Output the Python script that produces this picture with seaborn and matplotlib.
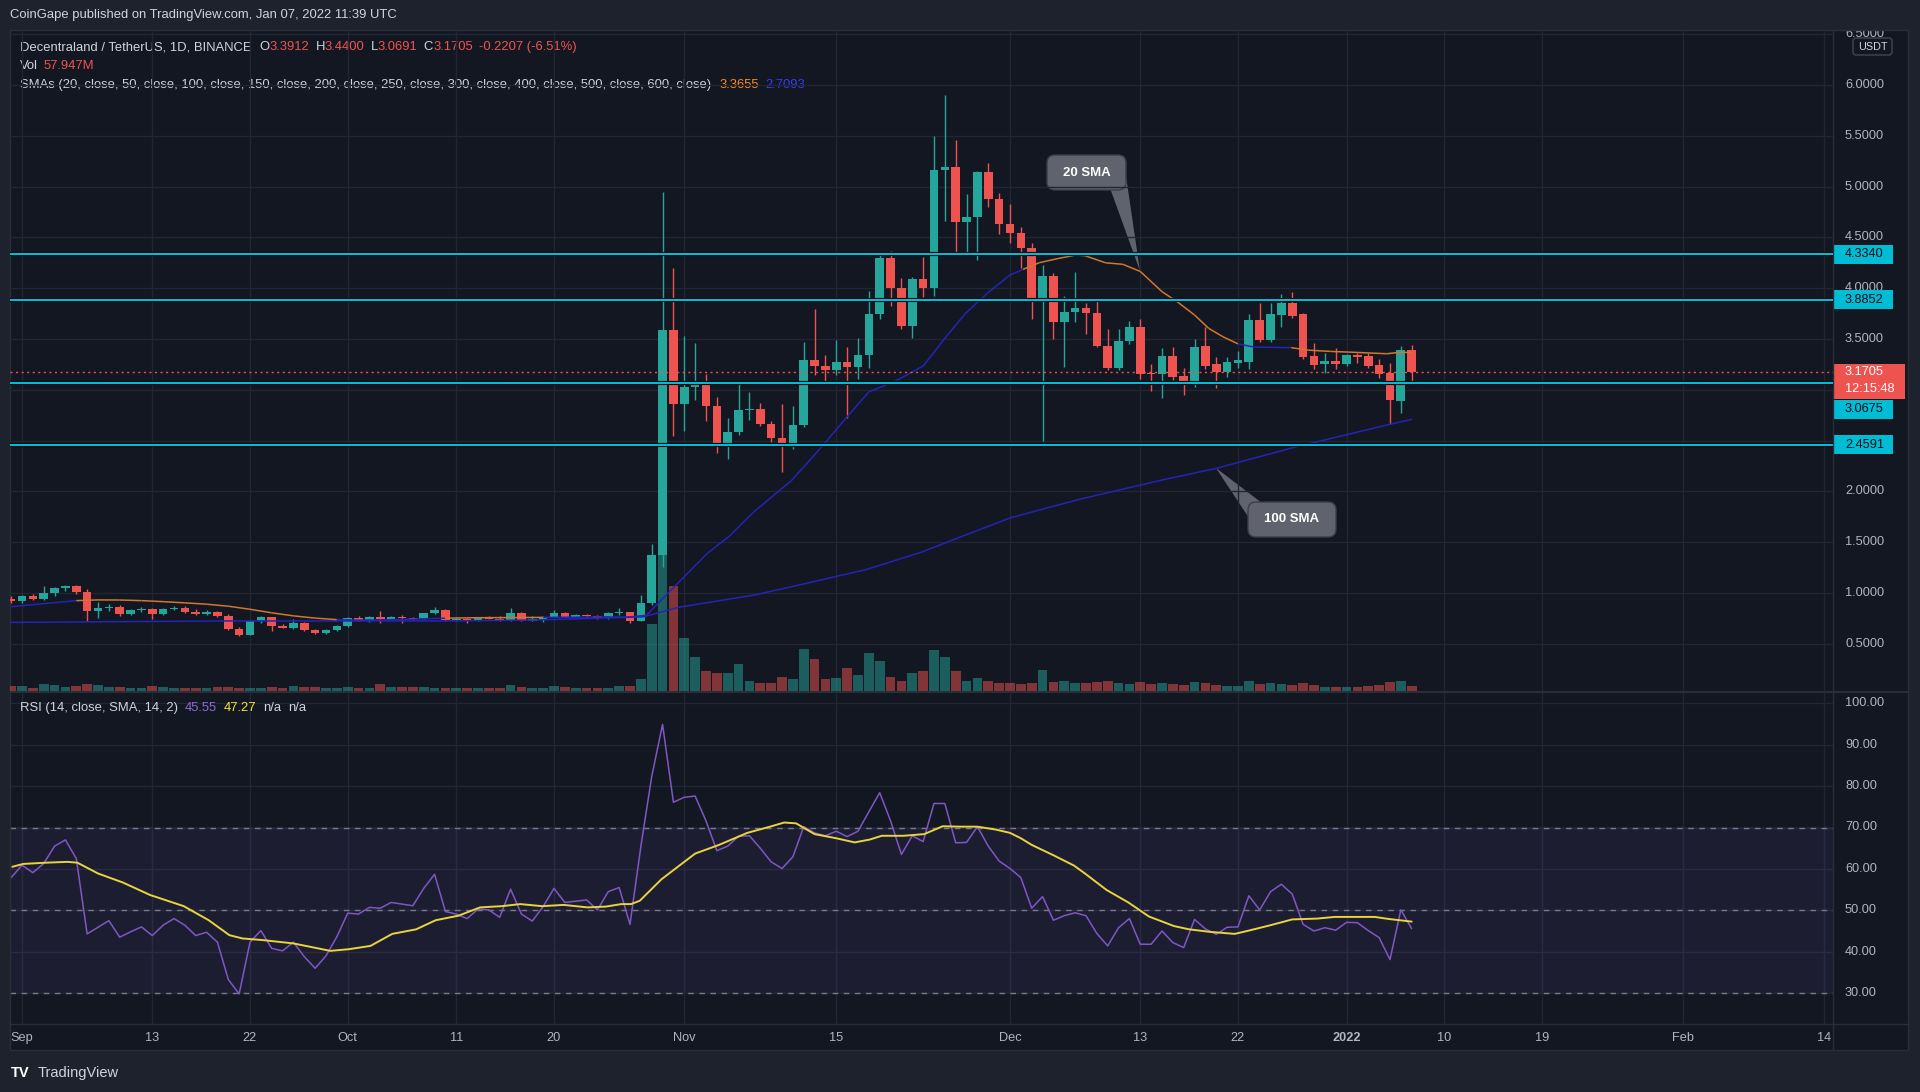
import numpy as np
import pandas as pd
import matplotlib
matplotlib.use("Agg")
import matplotlib.pyplot as plt
import matplotlib.transforms as mtransforms
from matplotlib.patches import Rectangle, FancyBboxPatch, Polygon
from matplotlib.collections import LineCollection
import seaborn as sns

# ---------------- data (MANA/USDT daily, day 0 = 2021-09-01) ----------------
first_day = -1
opens = [0.94, 0.92, 0.97, 0.94, 0.997, 1.05, 1.07, 1.01, 0.82, 0.85,
         0.866, 0.79, 0.833, 0.84, 0.79, 0.843, 0.856, 0.816, 0.79, 0.816,
         0.774, 0.65, 0.59, 0.725, 0.76, 0.675, 0.66, 0.70, 0.636, 0.603,
         0.636, 0.675, 0.75, 0.725, 0.76, 0.745, 0.767, 0.75, 0.745, 0.80,
         0.833, 0.735, 0.745, 0.725, 0.757, 0.748, 0.728, 0.80, 0.728, 0.735,
         0.767, 0.80, 0.767, 0.783, 0.775, 0.75, 0.80, 0.81, 0.728, 0.90,
         1.376, 3.584, 2.859, 3.026, 3.08, 2.84, 2.48, 2.58, 2.80, 2.81,
         2.664, 2.527, 2.46, 2.656, 3.295, 3.233, 3.194, 3.272, 3.22, 3.338,
         3.748, 4.294, 4.0, 3.628, 4.087, 4.0, 5.163, 5.19, 4.655, 4.697,
         5.147, 4.874, 4.632, 4.54, 4.392, 3.89, 4.12, 3.67, 3.762, 3.81,
         3.752, 3.434, 3.211, 3.484, 3.621, 3.165, 3.155, 3.333, 3.136, 3.047,
         3.431, 3.254, 3.179, 3.267, 3.277, 3.687, 3.49, 3.736, 3.858, 3.743,
         3.333, 3.251, 3.283, 3.254, 3.342, 3.333, 3.244, 3.162, 2.893, 3.3912]
highs = [0.975, 0.98, 0.99, 1.07, 1.06, 1.08, 1.08, 1.04, 0.91, 0.89,
         0.885, 0.84, 0.86, 0.85, 0.85, 0.87, 0.875, 0.84, 0.83, 0.825,
         0.79, 0.67, 0.73, 0.775, 0.765, 0.69, 0.74, 0.71, 0.65, 0.645,
         0.685, 0.76, 0.775, 0.77, 0.82, 0.775, 0.785, 0.765, 0.805, 0.86,
         0.84, 0.765, 0.75, 0.765, 0.775, 0.77, 0.855, 0.81, 0.77, 0.775,
         0.83, 0.81, 0.795, 0.79, 0.785, 0.81, 0.855, 0.815, 0.98, 1.48,
         4.945, 4.196, 3.53, 3.456, 3.16, 2.93, 2.72, 3.065, 2.98, 2.87,
         2.695, 2.858, 2.843, 3.467, 3.80, 3.34, 3.495, 3.424, 3.514, 3.973,
         4.33, 4.364, 4.099, 4.11, 4.31, 5.495, 5.90, 5.457, 4.93, 5.157,
         5.235, 4.94, 4.825, 4.60, 4.44, 4.228, 4.153, 3.923, 4.156, 3.851,
         3.89, 3.595, 3.595, 3.677, 3.693, 3.251, 3.408, 3.418, 3.211, 3.497,
         3.615, 3.32, 3.32, 3.382, 3.746, 3.858, 3.851, 3.94, 3.966, 3.76,
         3.457, 3.359, 3.408, 3.352, 3.365, 3.359, 3.303, 3.26, 3.434, 3.44]
lows = [0.905, 0.90, 0.93, 0.93, 0.97, 1.02, 0.99, 0.72, 0.75, 0.82,
        0.77, 0.78, 0.81, 0.74, 0.78, 0.83, 0.80, 0.78, 0.785, 0.765,
        0.64, 0.58, 0.585, 0.70, 0.63, 0.655, 0.65, 0.63, 0.60, 0.595,
        0.625, 0.665, 0.72, 0.715, 0.70, 0.735, 0.705, 0.735, 0.74, 0.79,
        0.725, 0.725, 0.70, 0.72, 0.74, 0.72, 0.72, 0.72, 0.72, 0.715,
        0.76, 0.76, 0.76, 0.765, 0.74, 0.745, 0.785, 0.70, 0.72, 0.88,
        1.26, 2.55, 2.59, 2.90, 2.69, 2.38, 2.32, 2.56, 2.70, 2.645,
        2.488, 2.187, 2.414, 2.629, 3.143, 3.085, 3.143, 2.72, 3.104, 3.21,
        3.70, 3.826, 3.60, 3.514, 3.91, 3.923, 4.664, 4.333, 4.343, 4.274,
        4.80, 4.53, 4.441, 4.195, 3.693, 2.499, 3.497, 3.221, 3.664, 3.549,
        3.42, 3.19, 3.19, 3.447, 3.103, 2.99, 2.923, 3.10, 2.949, 3.03,
        3.20, 3.014, 3.13, 3.211, 3.201, 3.47, 3.47, 3.615, 3.71, 3.30,
        3.201, 3.162, 3.20, 3.23, 3.267, 3.211, 3.119, 2.66, 2.775, 3.0691]
closes = [0.92, 0.97, 0.94, 0.997, 1.05, 1.07, 1.01, 0.82, 0.85, 0.866,
          0.79, 0.833, 0.84, 0.79, 0.843, 0.856, 0.816, 0.79, 0.816, 0.774,
          0.65, 0.59, 0.725, 0.76, 0.675, 0.66, 0.70, 0.636, 0.603, 0.636,
          0.675, 0.75, 0.725, 0.76, 0.745, 0.767, 0.75, 0.745, 0.80, 0.833,
          0.735, 0.745, 0.725, 0.757, 0.748, 0.728, 0.80, 0.728, 0.735, 0.767,
          0.80, 0.767, 0.783, 0.775, 0.75, 0.80, 0.81, 0.728, 0.90, 1.376,
          3.584, 2.859, 3.026, 3.08, 2.84, 2.48, 2.58, 2.80, 2.81, 2.664,
          2.527, 2.46, 2.656, 3.295, 3.233, 3.194, 3.272, 3.22, 3.338, 3.748,
          4.294, 4.0, 3.628, 4.087, 4.0, 5.163, 5.19, 4.655, 4.697, 5.147,
          4.874, 4.632, 4.54, 4.392, 3.89, 4.12, 3.67, 3.762, 3.81, 3.752,
          3.434, 3.211, 3.484, 3.621, 3.156, 3.155, 3.333, 3.129, 3.047, 3.425,
          3.234, 3.179, 3.27, 3.293, 3.687, 3.49, 3.743, 3.858, 3.73, 3.326,
          3.244, 3.283, 3.254, 3.342, 3.326, 3.238, 3.156, 2.90, 3.3912, 3.1705]
volumes_m = [55, 55, 35, 78, 66, 46, 55, 85, 66, 46,
             46, 35, 35, 55, 46, 35, 35, 35, 35, 46,
             46, 35, 35, 35, 46, 35, 58, 46, 46, 35,
             35, 46, 35, 35, 78, 46, 46, 46, 46, 35,
             35, 35, 35, 35, 35, 35, 66, 46, 35, 35,
             55, 46, 35, 35, 35, 35, 55, 55, 136, 774,
             1856, 1215, 611, 391, 230, 206, 206, 313, 119, 96,
             96, 166, 138, 487, 371, 138, 151, 267, 183, 441,
             348, 161, 119, 206, 234, 473, 391, 230, 119, 151,
             119, 96, 92, 82, 92, 244, 106, 115, 96, 93,
             104, 116, 93, 81, 104, 81, 93, 81, 70, 104,
             93, 70, 58, 58, 116, 81, 93, 81, 70, 93,
             70, 46, 46, 46, 46, 58, 70, 104, 116, 58]
rsi_vals = [57.9, 60.9, 59.1, 61.3, 65.5, 67.0, 62.5, 44.3, 45.9, 47.5,
            43.5, 44.8, 46.0, 43.9, 46.4, 48.0, 46.4, 43.9, 44.7, 42.3,
            33.3, 29.8, 42.3, 45.1, 40.8, 40.2, 42.3, 38.8, 36.0, 39.0,
            43.6, 49.3, 49.1, 50.7, 50.5, 51.9, 51.5, 51.1, 55.3, 58.7,
            49.7, 49.1, 48.0, 50.3, 50.1, 48.3, 55.1, 49.1, 47.4, 50.9,
            55.3, 51.9, 52.2, 52.5, 50.1, 54.5, 55.5, 46.6, 65.4, 82.3,
            94.9, 76.1, 77.3, 77.6, 71.6, 64.4, 65.5, 67.9, 68.0, 65.0,
            61.7, 60.1, 62.9, 70.2, 68.7, 68.0, 69.1, 67.8, 69.1, 73.8,
            78.4, 71.6, 63.5, 68.0, 66.6, 75.8, 75.8, 66.3, 66.4, 70.2,
            65.5, 61.9, 60.1, 57.9, 50.5, 53.3, 47.6, 48.7, 49.4, 48.7,
            44.4, 41.4, 45.8, 48.0, 41.8, 41.8, 45.0, 42.2, 41.0, 47.8,
            45.5, 44.2, 45.9, 46.0, 53.5, 50.1, 54.5, 56.3, 53.9, 46.6,
            45.0, 45.8, 45.2, 47.1, 47.0, 45.1, 43.4, 38.1, 50.1, 45.55]
rsi_ma_days = [-0.9, 0.1, 2.2, 4.2, 5.1, 7.0, 9.3, 11.8, 14.9, 17.2,
               19.1, 20.3, 22.2, 25.0, 28.4, 30.1, 32.1, 34.1, 36.3, 38.1,
               40.2, 42.2, 44.2, 45.9, 47.9, 49.9, 52.1, 53.8, 55.2, 56.1,
               56.9, 58.9, 62.0, 64.2, 66.8, 68.9, 70.2, 71.3, 73.0, 75.0,
               76.7, 78.1, 79.2, 81.2, 83.1, 84.8, 86.4, 88.0, 89.7, 91.0,
               92.0, 93.0, 95.0, 96.9, 97.9, 99.9, 101.9, 103.8, 106.1, 107.5,
               109.4, 111.7, 113.0, 115.0, 117.0, 119.3, 120.9, 122.6, 124.6, 125.9,
               128.0]
rsi_ma_vals = [60.5, 61.2, 61.5, 61.7, 61.5, 58.9, 56.7, 53.7, 51.0, 47.6,
               44.0, 43.2, 42.8, 42.0, 40.2, 40.6, 41.4, 44.3, 45.4, 47.6,
               48.7, 50.7, 51.0, 51.5, 51.0, 51.3, 50.7, 50.9, 51.5, 51.5,
               52.3, 57.5, 63.7, 65.8, 68.7, 70.2, 71.2, 71.0, 68.4, 67.4,
               66.4, 67.1, 68.0, 68.0, 68.4, 70.3, 70.2, 70.2, 69.5, 68.7,
               67.4, 65.8, 63.3, 60.8, 58.9, 54.9, 51.9, 48.5, 46.2, 45.4,
               44.8, 44.3, 45.1, 46.4, 47.8, 48.0, 48.4, 48.4, 48.4, 47.9,
               47.27]
sma20_days = [-1, 1, 3, 5, 7, 9, 11, 13, 15, 17,
              19, 21, 23, 25, 27, 29, 31, 33, 36, 39,
              42, 45, 48, 51, 54, 56, 57.5, 59.7, 63.1, 65.2,
              67.4, 70.9, 73.5, 76.0, 78.0, 80.3, 83.0, 85.1, 86.9, 88.9,
              91.0, 92.2, 93.7, 95.5, 97.1, 97.9, 99.8, 101.4, 103.0, 105.0,
              106.4, 108.0, 109.3, 110.6, 112.0, 113.5, 115.2, 116.9, 118.5, 120.5,
              122.5, 125.7, 127.0, 128.0]
sma20_vals = [0.865, 0.885, 0.905, 0.925, 0.932, 0.931, 0.925, 0.915, 0.903, 0.89,
              0.87, 0.84, 0.805, 0.775, 0.753, 0.738, 0.733, 0.735, 0.743, 0.752,
              0.757, 0.758, 0.76, 0.762, 0.765, 0.765, 0.78, 1.02, 1.388, 1.564,
              1.798, 2.11, 2.42, 2.734, 2.98, 3.077, 3.234, 3.52, 3.752, 3.949,
              4.13, 4.185, 4.251, 4.294, 4.327, 4.32, 4.25, 4.235, 4.165, 3.966,
              3.867, 3.736, 3.605, 3.523, 3.452, 3.42, 3.418, 3.415, 3.39, 3.378,
              3.37, 3.355, 3.37, 3.366]
sma100_days = [-1, 19, 29.6, 39, 47.3, 57.2, 60.6, 67.4, 71.0, 77.8,
               83.0, 85.8, 91.0, 97.5, 105.0, 110.0, 117.4, 125.7, 128.0]
sma100_vals = [0.711, 0.725, 0.725, 0.725, 0.734, 0.765, 0.862, 0.979, 1.065, 1.232,
               1.408, 1.525, 1.739, 1.925, 2.112, 2.227, 2.44, 2.653, 2.709]
levels = [4.3340, 3.8852, 3.0675, 2.4591]
last_price = 3.1705
tick_days = [0, 12, 21, 30, 40, 49, 61, 75, 91, 103, 112, 122, 131, 140, 153, 166]
tick_labels = ['Sep', '13', '22', 'Oct', '11', '20', 'Nov', '15', 'Dec', '13', '22',
               '2022', '10', '19', 'Feb', '14']
price_ticks = [0.5, 1.0, 1.5, 2.0, 2.5, 3.0, 3.5, 4.0, 4.5, 5.0, 5.5, 6.0, 6.5]
rsi_ticks = [30, 40, 50, 60, 70, 80, 90, 100]

# ---------------- style ----------------
sns.set_theme(style="dark")
plt.rcParams['font.family'] = ['Liberation Sans', 'DejaVu Sans']
plt.rcParams['axes.unicode_minus'] = False

W, H = 1920, 1092
BG = '#131722'; OUTER = '#1e222d'; GRID = '#222633'; BORDER = '#2a2e39'
TXT = '#d1d4dc'; AXTXT = '#b2b5be'
GREEN = '#26a69a'; RED = '#ef5350'; CYAN = '#00bcd4'
SMA_BLUE = '#2424b8'; SMA_ORANGE = '#d2772b'
RSI_C = '#7e57c2'; MA_C = '#e8d43c'

X0, X1, XR = 10, 1833, 1908
YM0, YM1 = 30, 691
YR0, YR1 = 693, 1024
YT1 = 1050
PPU = 101.6          # px per price unit
Y6 = 85              # px of price 6.0
RPU = 4.14           # px per RSI unit
Y100 = 703.3         # px of RSI 100
XD0, PPD = 22, 10.857  # px of day 0, px per day


def price_at(y):
    return 6.0 - (y - Y6) / PPU


def y_of(p):
    return Y6 + (6.0 - p) * PPU


def rsi_at(y):
    return 100.0 - (y - Y100) / RPU


def day_at(x):
    return (x - XD0) / PPD


def rect(x0, y0, x1, y1):
    return [x0 / W, 1 - y1 / H, (x1 - x0) / W, (y1 - y0) / H]


fig = plt.figure(figsize=(W / 100, H / 100), dpi=100)
fig.patch.set_facecolor(OUTER)
fig.add_artist(Rectangle((X0 / W, 1 - YT1 / H), (XR - X0) / W, (YT1 - YM0) / H,
                         transform=fig.transFigure, fc=BG, ec='none', zorder=-5))

ax = fig.add_axes(rect(X0, YM0, X1, YM1))
axv = ax.twinx()
axr = fig.add_axes(rect(X0, YR0, X1, YR1), sharex=ax)
axp = fig.add_axes(rect(X1, YM0, XR, YM1))
axrs = fig.add_axes(rect(X1, YR0, XR, YR1))
ov = fig.add_axes([0, 0, 1, 1])

xlim = (day_at(X0), day_at(X1))
ylim_main = (price_at(YM1), price_at(YM0))
ylim_rsi = (rsi_at(YR1), rsi_at(YR0))

for a in (ax, axv, axr):
    for s in a.spines.values():
        s.set_visible(False)
    a.tick_params(length=0)
    a.grid(False)

ax.set_zorder(2); axv.set_zorder(1)
ax.patch.set_visible(False)
axv.patch.set_facecolor(BG)
axr.set_facecolor(BG)

days = np.arange(first_day, first_day + len(closes))
o = np.array(opens); h = np.array(highs); l = np.array(lows); c = np.array(closes)
up = c >= o
cols = np.where(up, GREEN, RED)

# grid (behind volume)
gtrans = mtransforms.blended_transform_factory(axv.transAxes, ax.transData)
for d in tick_days:
    axv.axvline(d, color=GRID, lw=1, zorder=0)
    axr.axvline(d, color=GRID, lw=1, zorder=0)
for p in price_ticks:
    axv.plot([0, 1], [p, p], transform=gtrans, color=GRID, lw=1, zorder=0)
for v in rsi_ticks:
    axr.axhline(v, color=GRID, lw=1, zorder=0)

# volume
axv.bar(days, volumes_m, width=0.9, color=list(cols), alpha=0.5, linewidth=0, zorder=2)
axv.set_ylim(0, (YM1 - YM0) * 11.6)
axv.set_yticks([])

# candles
ax.vlines(days, l, h, colors=list(cols), linewidth=1.0, zorder=3)
ax.bar(days, np.maximum(np.abs(c - o), 0.012), bottom=np.minimum(o, c), width=0.8,
       color=list(cols), linewidth=0, zorder=4)

# SMA 100
sns.lineplot(x=sma100_days, y=sma100_vals, ax=ax, color=SMA_BLUE, linewidth=1.1, zorder=5)

# SMA 20 (blue when close above, orange when below)
sd = np.array(sma20_days); sv = np.array(sma20_vals)
segs, scol = [], []
for i in range(len(sd) - 1):
    k = int(round(0.5 * (sd[i] + sd[i + 1]))) - first_day
    k = min(max(k, 0), len(c) - 1)
    above = c[k] > 0.5 * (sv[i] + sv[i + 1])
    segs.append([(sd[i], sv[i]), (sd[i + 1], sv[i + 1])])
    scol.append(SMA_BLUE if above else SMA_ORANGE)
ax.add_collection(LineCollection(segs, colors=scol, linewidths=1.1, zorder=5))

# horizontal levels
for lv in levels:
    ax.axhline(lv, color='#05070c', lw=3.0, zorder=6)
    ax.axhline(lv, color=CYAN, lw=1.5, zorder=7)
ax.axhline(last_price, color=RED, lw=1.0, ls=(0, (1.5, 2.5)), zorder=7)

ax.set_xlim(*xlim); ax.set_ylim(*ylim_main)
ax.set_xlabel(''); ax.set_ylabel('')
ax.set_yticks([])
ax.tick_params(labelbottom=False)

# RSI pane
axr.axhspan(30, 70, color=RSI_C, alpha=0.1, lw=0, zorder=1)
for v in (30, 50, 70):
    axr.axhline(v, color='#787b86', lw=1, ls=(0, (4, 4)), zorder=2)
sns.lineplot(x=days, y=rsi_vals, ax=axr, color=RSI_C, linewidth=1.1, zorder=4)
sns.lineplot(x=rsi_ma_days, y=rsi_ma_vals, ax=axr, color=MA_C, linewidth=1.4, zorder=5)
axr.set_ylim(*ylim_rsi)
axr.set_xlim(*xlim)
axr.set_yticks([])
axr.set_xlabel(''); axr.set_ylabel('')
axr.set_xticks(tick_days)
axr.set_xticklabels(tick_labels)
axr.tick_params(axis='x', length=0, pad=6, colors=AXTXT, labelsize=9.2)
for t in axr.get_xticklabels():
    if t.get_text() == '2022':
        t.set_fontweight('bold')

# price scale: label boxes (pixel extents), tick labels hidden where covered
axp.set_xlim(0, 1); axp.set_ylim(*ylim_main); axp.axis('off')
label_shift_px = {3.0675: 26.5}
boxes_px = []
for lv in levels:
    cy = y_of(lv) + label_shift_px.get(lv, 0.0)
    boxes_px.append((cy - 9.5, cy + 9.5, lv, cy))
red_top, red_bot = y_of(last_price) - 8.5, y_of(last_price) + 26.5
covered = [(b[0], b[1]) for b in boxes_px] + [(red_top, red_bot)]

for p in price_ticks:
    yp = y_of(p)
    if any(t0 - 1 <= yp <= t1 + 1 for t0, t1 in covered):
        continue
    axp.text(0.16, p, f'{p:.4f}', color=AXTXT, fontsize=9.2, va='center', ha='left',
             clip_on=True, zorder=1)
for t0, t1, lv, cy in boxes_px:
    axp.add_patch(Rectangle((0.013, price_at(t1)), 0.787, 19 / PPU, fc=CYAN, ec='none', zorder=2))
    axp.text(0.16, price_at(cy), f'{lv:.4f}', color='#0b0d14', fontsize=9.2,
             va='center', ha='left', zorder=3)
axp.add_patch(Rectangle((0.013, price_at(red_bot)), 0.95, (red_bot - red_top) / PPU,
                        fc=RED, ec='none', zorder=4))
axp.text(0.16, last_price, f'{last_price:.4f}', color='white', fontsize=9.2,
         va='center', ha='left', zorder=5)
axp.text(0.16, price_at(y_of(last_price) + 17), '12:15:48', color='white', fontsize=9.2,
         va='center', ha='left', zorder=5)

# RSI scale
axrs.set_xlim(0, 1); axrs.set_ylim(*ylim_rsi); axrs.axis('off')
for v in rsi_ticks:
    axrs.text(0.16, v, f'{v:.2f}', color=AXTXT, fontsize=9.2, va='center', ha='left')

# overlay (pixel coords)
ov.set_xlim(0, W); ov.set_ylim(H, 0); ov.axis('off')
ov.plot([X1, X1], [YM0, YT1], color=BORDER, lw=1)
ov.plot([X0, XR], [692, 692], color=BORDER, lw=1.5)
ov.plot([X0, XR], [YR1, YR1], color=BORDER, lw=1)
ov.add_patch(Rectangle((X0, YM0), XR - X0, YT1 - YM0, fill=False, ec=BORDER, lw=1))

ov.add_patch(FancyBboxPatch((1853, 38), 39, 17, boxstyle="round,pad=0,rounding_size=3",
                            fc=BG, ec='#434651', lw=1))
ov.text(1872.5, 46.5, 'USDT', color=TXT, fontsize=7.8, ha='center', va='center')

# callouts
CALL = '#60636e'
ov.add_patch(Polygon([(1110, 188), (1126, 176), (1140, 271)], closed=True, fc=CALL, ec='none'))
ov.add_patch(FancyBboxPatch((1047, 155), 79, 35, boxstyle="round,pad=0,rounding_size=8",
                            fc=CALL, ec='#3c3f49', lw=1))
ov.text(1086.5, 172.5, '20 SMA', color='white', fontsize=9.5, fontweight='bold', ha='center', va='center')
ov.add_patch(Polygon([(1216, 468), (1262, 503), (1249, 518)], closed=True, fc=CALL, ec='none'))
ov.add_patch(FancyBboxPatch((1248, 502), 88, 35, boxstyle="round,pad=0,rounding_size=8",
                            fc=CALL, ec='#3c3f49', lw=1))
ov.text(1292, 519.5, '100 SMA', color='white', fontsize=9.5, fontweight='bold', ha='center', va='center')

renderer = fig.canvas.get_renderer()


def seq(x, y, parts, size=9.4):
    for s, col, gap, wt in parts:
        t = ov.text(x, y, s, color=col, fontsize=size, ha='left', va='center', fontweight=wt)
        x += t.get_window_extent(renderer=renderer).width + gap


ov.text(10, 15, 'CoinGape published on TradingView.com, Jan 07, 2022 11:39 UTC',
        color=TXT, fontsize=9.4, ha='left', va='center')
seq(20, 47, [('Decentraland / TetherUS, 1D, BINANCE', TXT, 8, 'normal'),
             ('O', TXT, 0, 'normal'), ('3.3912', RED, 6, 'normal'),
             ('H', TXT, 0, 'normal'), ('3.4400', RED, 6, 'normal'),
             ('L', TXT, 0, 'normal'), ('3.0691', RED, 6, 'normal'),
             ('C', TXT, 0, 'normal'), ('3.1705', RED, 6, 'normal'),
             ('-0.2207 (-6.51%)', RED, 0, 'normal')])
seq(20, 66, [('Vol', TXT, 6, 'normal'), ('57.947M', RED, 0, 'normal')])
seq(20, 85, [('SMAs (20, close, 50, close, 100, close, 150, close, 200, close, 250, close, '
              '300, close, 400, close, 500, close, 600, close)', TXT, 8, 'normal'),
             ('3.3655', '#ff8c1a', 7, 'normal'), ('2.7093', '#3a3aff', 0, 'normal')])
seq(20, 708, [('RSI (14, close, SMA, 14, 2)', TXT, 7, 'normal'),
              ('45.55', '#8d6ad6', 7, 'normal'), ('47.27', '#f5e23c', 7, 'normal'),
              ('n/a', TXT, 6, 'normal'), ('n/a', TXT, 0, 'normal')])

ov.text(11, 1073, 'TV', color='white', fontsize=10.5, fontweight='bold', ha='left', va='center')
ov.text(38, 1073, 'TradingView', color=TXT, fontsize=10.5, ha='left', va='center')

fig.savefig('out.png', dpi=100, facecolor=OUTER)
